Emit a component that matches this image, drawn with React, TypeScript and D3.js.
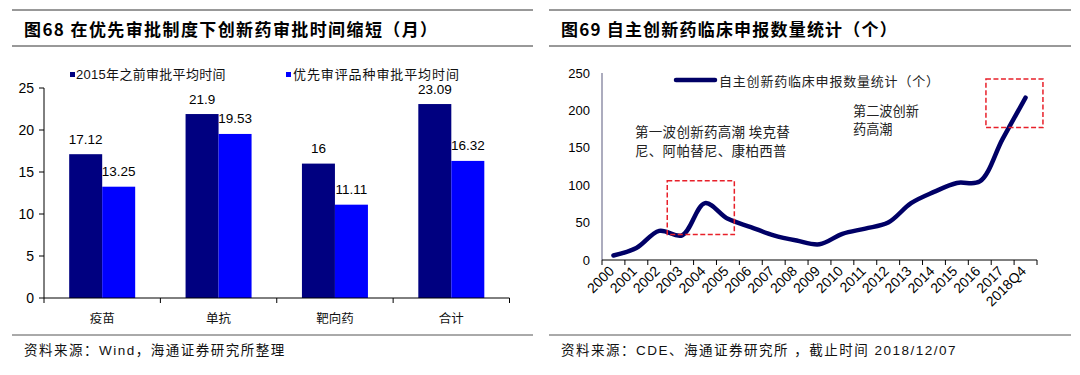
import React from 'react';
import * as d3 from 'd3';

// ---------- Data: left chart (图68) ----------
const barCategories = ['疫苗', '单抗', '靶向药', '合计'];
const before2015Values = [17.12, 21.9, 16, 23.09];
const priorityValues = [13.25, 19.53, 11.11, 16.32];
const barSeriesNames = ['2015年之前审批平均时间', '优先审评品种审批平均时间'];
const barTicks = [0, 5, 10, 15, 20, 25];

// ---------- Data: right chart (图69) ----------
const years = ['2000', '2001', '2002', '2003', '2004', '2005', '2006', '2007', '2008', '2009',
  '2010', '2011', '2012', '2013', '2014', '2015', '2016', '2017', '2018Q4'];
const filingCounts = [6, 16, 39, 33, 76, 55, 44, 33, 26, 21, 35, 42, 50, 76, 91, 103, 105, 162, 217];
const lineTicks = [0, 50, 100, 150, 200, 250];
const lineSeriesName = '自主创新药临床申报数量统计（个）';
const firstWaveLines = ['第一波创新药高潮 埃克替', '尼、阿帕替尼、康柏西普'];
const secondWaveLines = ['第二波创新', '药高潮'];
// highlight boxes in data units (band index, value)
const highlightBoxes = [
  { i0: 2.85, i1: 5.78, v0: 34, v1: 106 },
  { i0: 16.77, i1: 19.26, v0: 177, v1: 242 },
];

const leftTitle = '图68 在优先审批制度下创新药审批时间缩短（月）';
const rightTitle = '图69 自主创新药临床申报数量统计（个）';
const leftSource = '资料来源：Wind，海通证券研究所整理';
const rightSource = '资料来源：CDE、海通证券研究所 ，截止时间 2018/12/07';

const FONT = '"Liberation Sans", Arial, "Noto Sans CJK SC", sans-serif';
const CJK = '"Noto Sans CJK SC", "Liberation Sans", sans-serif';

const DARK = '#000080';
const BLUE = '#0000ff';
const LINE = '#000066';

export default function App() {
  // Left chart scales
  const xBand = d3.scaleBand<string>().domain(barCategories).range([44, 509.5]);
  const yBar = d3.scaleLinear().domain([0, 25]).range([298, 88]);
  const barW = 33;

  // Right chart scales
  const xYear = d3.scaleBand<string>().domain(years).range([602, 1037]);
  const xIdx = d3.scaleLinear().domain([0, years.length]).range([602, 1037]);
  const yLine = d3.scaleLinear().domain([0, 250]).range([260, 73]);
  const bw = xYear.bandwidth();
  const lineGen = d3
    .line<number>()
    .x((_, i) => (xYear(years[i]) as number) + bw / 2)
    .y((d) => yLine(d))
    .curve(d3.curveCatmullRom.alpha(0.5));

  const boundariesLeft = [...barCategories.map((c) => xBand(c) as number), 509.5];
  const boundariesRight = [...years.map((y) => xYear(y) as number), 1037];

  return (
    <svg
      width={1080}
      height={375}
      style={{ position: 'absolute', left: 0, top: 0, background: '#fff' }}
      fontFamily={FONT}
    >
      <rect x={0} y={0} width={1080} height={375} fill="#fff" />
      {/* Header rules and titles */}
      <line x1={12} x2={533} y1={10} y2={10} stroke="#333" strokeWidth={1} />
      <line x1={12} x2={533} y1={46} y2={46} stroke="#333" strokeWidth={1} />
      <line x1={549} x2={1071} y1={10} y2={10} stroke="#333" strokeWidth={1} />
      <line x1={549} x2={1071} y1={46} y2={46} stroke="#333" strokeWidth={1} />
      <text x={24} y={28} dominantBaseline="central" fontSize={17} fontWeight={700} letterSpacing={1.4} fontFamily={CJK} fill="#000">
        {leftTitle}
      </text>
      <text x={561} y={28} dominantBaseline="central" fontSize={17} fontWeight={700} letterSpacing={1.2} fontFamily={CJK} fill="#000">
        {rightTitle}
      </text>

      {/* Footer rules and sources */}
      <line x1={12} x2={533} y1={335} y2={335} stroke="#555" strokeWidth={1} />
      <line x1={549} x2={1071} y1={335} y2={335} stroke="#555" strokeWidth={1} />
      <text x={24} y={350} dominantBaseline="central" fontSize={13.5} letterSpacing={1.5} fill="#111">
        {leftSource}
      </text>
      <text x={561} y={350} dominantBaseline="central" fontSize={13.5} letterSpacing={1.5} fill="#111">
        {rightSource}
      </text>

      {/* ---------- Left chart ---------- */}
      {/* legend */}
      <rect x={70} y={72} width={5} height={5} fill={DARK} />
      <text x={76} y={74.5} dominantBaseline="central" fontSize={13} letterSpacing={0.3} fill="#111">
        {barSeriesNames[0]}
      </text>
      <rect x={286} y={72} width={5} height={5} fill={BLUE} />
      <text x={293} y={74.5} dominantBaseline="central" fontSize={13} letterSpacing={0.9} fill="#111">
        {barSeriesNames[1]}
      </text>

      {/* bars */}
      {barCategories.map((c, i) => {
        const cx = (xBand(c) as number) + xBand.bandwidth() / 2;
        const v1 = before2015Values[i];
        const v2 = priorityValues[i];
        return (
          <g key={c}>
            <rect x={cx - barW} y={yBar(v1)} width={barW} height={yBar(0) - yBar(v1)} fill={DARK} />
            <rect x={cx} y={yBar(v2)} width={barW} height={yBar(0) - yBar(v2)} fill={BLUE} />
            <text x={cx - barW / 2} y={yBar(v1) - 15} textAnchor="middle" dominantBaseline="central" fontSize={13.5} fill="#000">
              {String(v1)}
            </text>
            <text x={cx + barW / 2} y={yBar(v2) - 15} textAnchor="middle" dominantBaseline="central" fontSize={13.5} fill="#000">
              {String(v2)}
            </text>
            <text x={cx} y={317} textAnchor="middle" dominantBaseline="central" fontSize={12.5} fontFamily={CJK} fill="#111">
              {c}
            </text>
          </g>
        );
      })}

      {/* axes */}
      <line x1={44} x2={44} y1={yBar(25)} y2={yBar(0)} stroke="#000" strokeWidth={1} />
      {barTicks.map((t) => (
        <g key={t}>
          <line x1={39} x2={44} y1={yBar(t)} y2={yBar(t)} stroke="#000" strokeWidth={1} />
          <text x={34} y={yBar(t)} textAnchor="end" dominantBaseline="central" fontSize={14} fill="#000">
            {t}
          </text>
        </g>
      ))}
      <line x1={44} x2={509.5} y1={yBar(0)} y2={yBar(0)} stroke="#000" strokeWidth={1} />
      {boundariesLeft.map((b, i) => (
        <line key={i} x1={b} x2={b} y1={yBar(0)} y2={yBar(0) + 5} stroke="#000" strokeWidth={1} />
      ))}

      {/* ---------- Right chart ---------- */}
      {/* legend */}
      <line x1={676} x2={715} y1={80} y2={80} stroke={LINE} strokeWidth={4.5} strokeLinecap="round" />
      <text x={719} y={80} dominantBaseline="central" fontSize={13} letterSpacing={0.8} fontFamily={CJK} fill="#222">
        {lineSeriesName}
      </text>

      {/* annotations */}
      {firstWaveLines.map((t, i) => (
        <text key={t} x={635} y={131 + i * 18.5} dominantBaseline="central" fontSize={13.5} letterSpacing={0.3} fontFamily={CJK} fill="#222">
          {t}
        </text>
      ))}
      {secondWaveLines.map((t, i) => (
        <text key={t} x={853} y={110 + i * 18.5} dominantBaseline="central" fontSize={13.2} fontFamily={CJK} fill="#222">
          {t}
        </text>
      ))}

      {/* axes */}
      <line x1={602} x2={602} y1={yLine(250)} y2={yLine(0)} stroke="#9090a8" strokeWidth={1.5} />
      {lineTicks.map((t) => (
        <text key={t} x={590} y={yLine(t)} textAnchor="end" dominantBaseline="central" fontSize={13} fill="#000">
          {t}
        </text>
      ))}
      <line x1={602} x2={1037} y1={yLine(0)} y2={yLine(0)} stroke="#000" strokeWidth={1} />
      {boundariesRight.map((b, i) => (
        <line key={i} x1={b} x2={b} y1={yLine(0)} y2={yLine(0) + 5} stroke="#000" strokeWidth={1} />
      ))}
      {years.map((y) => {
        const cx = (xYear(y) as number) + bw / 2 + 1.5;
        const cy = 272;
        return (
          <text key={y} x={cx} y={cy} textAnchor="end" fontSize={14} fill="#000" transform={`rotate(-45, ${cx}, ${cy})`}>
            {y}
          </text>
        );
      })}

      {/* line */}
      <path d={lineGen(filingCounts) || ''} fill="none" stroke={LINE} strokeWidth={4.5} strokeLinecap="round" strokeLinejoin="round" />

      {/* highlight boxes */}
      {highlightBoxes.map((b, i) => (
        <rect
          key={i}
          x={xIdx(b.i0)}
          y={yLine(b.v1)}
          width={xIdx(b.i1) - xIdx(b.i0)}
          height={yLine(b.v0) - yLine(b.v1)}
          fill="none"
          stroke="#e8202a"
          strokeWidth={1.5}
          strokeDasharray="5,2.5"
        />
      ))}
    </svg>
  );
}
